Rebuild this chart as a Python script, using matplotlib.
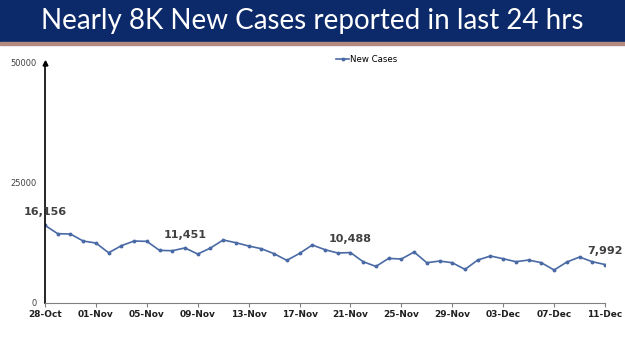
import numpy as np
import pandas as pd
import matplotlib.pyplot as plt

dates = pd.date_range("2020-10-28", "2020-12-11", freq="D")
new_cases = [16156, 14415, 14350, 12890, 12470, 10450, 11910, 12890, 12820, 10940,
             10870, 11451, 10180, 11430, 13100, 12540, 11850, 11290, 10250, 8860,
             10310, 12060, 11080, 10390, 10488, 8580, 7600, 9270, 9140, 10600,
             8370, 8720, 8370, 6980, 8930, 9770, 9200, 8580, 8930, 8370,
             6850, 8510, 9560, 8580, 7992]
labelled = ["2020-10-28", "2020-11-08", "2020-11-21", "2020-12-11"]
yticks = [0, 25000, 50000]

title = "Nearly 8K New Cases reported in last 24 hrs"
line_color = "#4a6aa5"

fig = plt.figure(figsize=(6.25, 3.51), dpi=100)

# title banner
fig.patches.append(plt.Rectangle((0, 0.878), 1, 0.122, transform=fig.transFigure,
                                 color="#0c2a69", zorder=0))
fig.patches.append(plt.Rectangle((0, 0.872), 1, 0.007, transform=fig.transFigure,
                                 color="#b48a80", zorder=0))
fig.text(0.5, 0.94, title, color="white", fontsize=20, family="Lato",
         ha="center", va="center")

ax = fig.add_axes([0.072, 0.137, 0.896, 0.684])
x = np.arange(len(dates))
ax.plot(x, new_cases, color=line_color, lw=1.2, marker="o", markersize=1.8,
        label="New Cases")

for d in labelled:
    i = list(dates).index(pd.Timestamp(d))
    ax.annotate(f"{new_cases[i]:,}", (x[i], new_cases[i]), xytext=(0, 6),
                textcoords="offset points", ha="center", va="bottom",
                fontsize=8, fontweight="bold", color="#404040")

ax.set_xlim(0, len(dates) - 1)
ax.set_ylim(0, 50000)
ax.set_xticks(x[::4])
ax.set_xticklabels([d.strftime("%d-%b") for d in dates[::4]], fontsize=6.5,
                   fontweight="bold", color="#202020")
ax.set_yticks(yticks)
ax.set_yticklabels([str(v) for v in yticks], fontsize=6, color="#404040")
ax.tick_params(axis="y", length=0, pad=6)
ax.tick_params(axis="x", length=3, color="#808080", pad=2)

for s in ["top", "right"]:
    ax.spines[s].set_visible(False)
ax.spines["bottom"].set_color("#808080")
ax.spines["left"].set_color("black")
ax.spines["left"].set_linewidth(1.2)
ax.plot(0, 1, marker="^", color="black", markersize=3.5, transform=ax.transAxes,
        clip_on=False)

ax.legend(loc="upper center", bbox_to_anchor=(0.575, 1.065), frameon=False,
          fontsize=6.2, handlelength=1.4, handletextpad=0.2)

fig.savefig("out.png", dpi=100)
